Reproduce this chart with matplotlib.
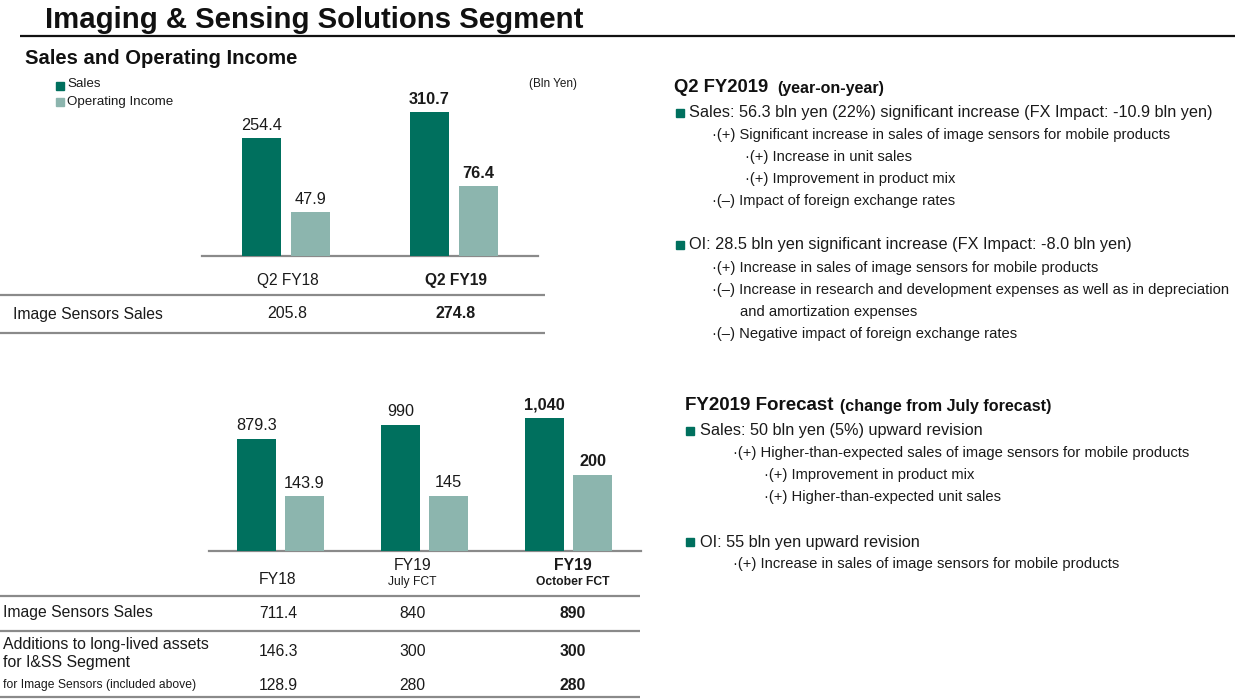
import numpy as np
import matplotlib
matplotlib.use('Agg')
import matplotlib.pyplot as plt
from matplotlib.transforms import blended_transform_factory

plt.rcParams['font.family'] = ['Liberation Sans', 'DejaVu Sans']

# ---------------- data ----------------
q_categories = ['Q2 FY18', 'Q2 FY19']
q_sales = [254.4, 310.7]
q_oi = [47.9, 76.4]
q_sales_labels = ['254.4', '310.7']
q_oi_labels = ['47.9', '76.4']
q_image_sensors = ['205.8', '274.8']

fy_categories = ['FY18', 'FY19', 'FY19']
fy_subcategories = ['', 'July FCT', 'October FCT']
fy_sales = [879.3, 990, 1040]
fy_oi = [143.9, 145, 200]
fy_sales_labels = ['879.3', '990', '1,040']
fy_oi_labels = ['143.9', '145', '200']
fy_image_sensors = ['711.4', '840', '890']
fy_additions = ['146.3', '300', '300']
fy_additions_is = ['128.9', '280', '280']

DARK = '#00705E'
LIGHT = '#8CB5AE'
GRAY = '#8a8a8a'
INK = '#1a1a1a'

W, H = 1235, 699
fig = plt.figure(figsize=(W / 100, H / 100), dpi=100)
bg = fig.add_axes([0, 0, 1, 1], zorder=0)
bg.set_xlim(0, W)
bg.set_ylim(H, 0)
bg.axis('off')


def px_axes(x0, y0, x1, y1):
    a = fig.add_axes([x0 / W, 1 - y1 / H, (x1 - x0) / W, (y1 - y0) / H], zorder=2)
    a.patch.set_visible(False)
    return a


def hline(x0, x1, y, color=GRAY, lw=1.6):
    bg.plot([x0, x1], [y, y], color=color, lw=lw, solid_capstyle='butt')


def txt(x, y, s, size, weight='normal', ha='left', va='center', color=INK, **kw):
    bg.text(x, y, s, fontsize=size, fontweight=weight, ha=ha, va=va, color=color, **kw)


def bars(rect, sales, oi, smax, omax, width, off, slabels, olabels, fs):
    ax = px_axes(*rect)
    ax2 = ax.twinx()
    ax2.patch.set_visible(False)
    n = len(sales)
    x = np.arange(n)
    ax.bar(x - off, sales, width, color=DARK, zorder=3)
    ax2.bar(x + off, oi, width, color=LIGHT, zorder=3)
    ax.set_xlim(-0.5, n - 0.5)
    ax.set_ylim(0, smax)
    ax2.set_ylim(0, omax)
    for a in (ax, ax2):
        for sp in ('top', 'left', 'right'):
            a.spines[sp].set_visible(False)
        a.set_xticks([])
        a.set_yticks([])
    ax.spines['bottom'].set_color(GRAY)
    ax.spines['bottom'].set_linewidth(1.6)
    ax2.spines['bottom'].set_visible(False)
    for i in range(n):
        w = 'bold' if i == n - 1 else 'normal'
        ax.annotate(slabels[i], (x[i] - off, sales[i]), xytext=(0, 4), textcoords='offset points',
                    ha='center', va='bottom', fontsize=fs, fontweight=w, color=INK,
                    annotation_clip=False)
        ax2.annotate(olabels[i], (x[i] + off, oi[i]), xytext=(0, 4), textcoords='offset points',
                     ha='center', va='bottom', fontsize=fs, fontweight=w, color=INK,
                     annotation_clip=False)
    return ax


# ---------------- title ----------------
txt(45, 28, 'Imaging & Sensing Solutions Segment', 21.2, 'bold', va='baseline', color='#111111')
hline(20, W, 35.7, color='#111111', lw=1.6)
txt(25, 63.5, 'Sales and Operating Income', 14.6, 'bold', va='baseline', color='#111111')

# legend
bg.plot([60], [85.5], marker='s', ms=6, color=DARK, ls='none')
bg.plot([60], [101.6], marker='s', ms=6, color=LIGHT, ls='none')
txt(67, 84, 'Sales', 9.6)
txt(67, 102, 'Operating Income', 9.6)
txt(577, 84, '(Bln Yen)', 8.5, ha='right')

# ---------------- top chart ----------------
axq = bars((202, 80, 538, 256), q_sales, q_oi, 381, 193, 0.232, 0.146,
           q_sales_labels, q_oi_labels, 11.7)
tq = blended_transform_factory(axq.transData, bg.transData)
for i, c in enumerate(q_categories):
    w = 'bold' if i == len(q_categories) - 1 else 'normal'
    bg.text(i + 0.01, 280, c, transform=tq, ha='center', va='center', fontsize=11.2, fontweight=w, color=INK)
    bg.text(i + 0.01, 314, q_image_sensors[i], transform=tq, ha='center', va='center', fontsize=11.5,
            fontweight=w, color=INK)
hline(0, 545, 295)
hline(0, 545, 333)
txt(13, 314, 'Image Sensors Sales', 11.3)

# ---------------- bottom chart ----------------
axf = bars((208.5, 390, 640.5, 551), fy_sales, fy_oi, 1263, 423, 0.271, 0.167,
           fy_sales_labels, fy_oi_labels, 11.7)
col_x = [278, 412.5, 572.5]
for i in range(len(fy_categories)):
    w = 'bold' if i == len(fy_categories) - 1 else 'normal'
    if fy_subcategories[i]:
        txt(col_x[i], 565, fy_categories[i], 11.3, w, ha='center')
        txt(col_x[i], 582, fy_subcategories[i], 8.7, w, ha='center')
    else:
        txt(col_x[i], 579, fy_categories[i], 11.3, w, ha='center')
    txt(col_x[i], 614, fy_image_sensors[i], 11.3, w, ha='center')
    txt(col_x[i], 652, fy_additions[i], 11.3, w, ha='center')
    txt(col_x[i], 686, fy_additions_is[i], 11.3, w, ha='center')
hline(0, 640, 596)
hline(0, 640, 631)
hline(0, 640, 697)
txt(3, 613, 'Image Sensors Sales', 11.3)
txt(3, 644, 'Additions to long-lived assets', 11.4)
txt(3, 663, 'for I&SS Segment', 11.4)
txt(3, 685, 'for Image Sensors (included above)', 8.7)

# ---------------- right-hand commentary ----------------
def bullet(x, y):
    bg.plot([x], [y], marker='s', ms=5.2, color=DARK, ls='none')

MAIN = 11.7
SUB = 10.6
txt(674, 88, 'Q2 FY2019', 13.3, 'bold', color='#111111')
txt(777, 89, '(year-on-year)', 11.5, 'bold', color='#111111')
bullet(679.5, 112.5)
txt(689, 113, 'Sales: 56.3 bln yen (22%) significant increase (FX Impact: -10.9 bln yen)', MAIN)
txt(712, 135, '\u00b7(+) Significant increase in sales of image sensors for mobile products', SUB)
txt(745, 157, '\u00b7(+) Increase in unit sales', SUB)
txt(745, 179, '\u00b7(+) Improvement in product mix', SUB)
txt(712, 201, '\u00b7(\u2013) Impact of foreign exchange rates', SUB)
bullet(679.5, 245)
txt(689, 245, 'OI: 28.5 bln yen significant increase (FX Impact: -8.0 bln yen)', MAIN)
txt(712, 268, '\u00b7(+) Increase in sales of image sensors for mobile products', SUB)
txt(712, 290, '\u00b7(\u2013) Increase in research and development expenses as well as in depreciation', SUB)
txt(740, 312, 'and amortization expenses', SUB)
txt(712, 334, '\u00b7(\u2013) Negative impact of foreign exchange rates', SUB)

txt(685, 406, 'FY2019 Forecast', 13.5, 'bold', color='#111111')
txt(840, 407, '(change from July forecast)', 11.6, 'bold', color='#111111')
bullet(690, 431)
txt(700, 431, 'Sales: 50 bln yen (5%) upward revision', MAIN)
txt(733, 453, '\u00b7(+) Higher-than-expected sales of image sensors for mobile products', SUB)
txt(764, 475, '\u00b7(+) Improvement in product mix', SUB)
txt(764, 497, '\u00b7(+) Higher-than-expected unit sales', SUB)
bullet(690, 542)
txt(700, 542, 'OI: 55 bln yen upward revision', MAIN)
txt(733, 564, '\u00b7(+) Increase in sales of image sensors for mobile products', SUB)

fig.savefig('out.png', dpi=100)
